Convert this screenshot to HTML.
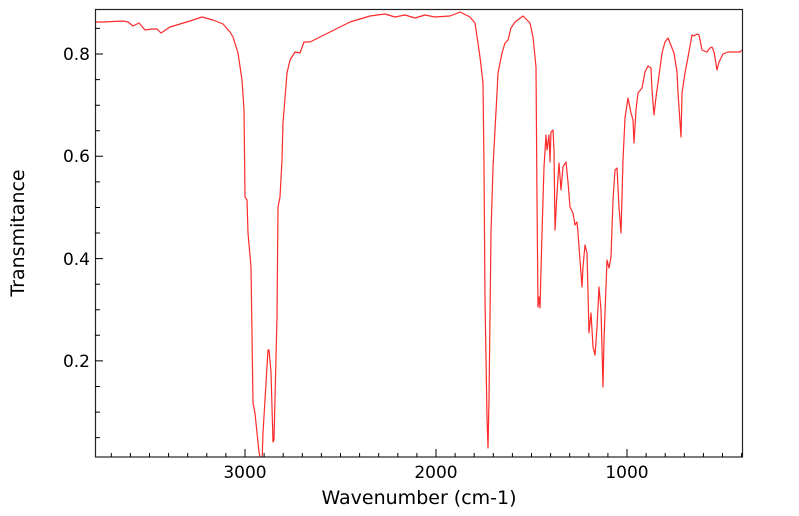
<!DOCTYPE html>
<html><head><meta charset="utf-8"><style>
html,body{margin:0;padding:0;background:#fff;width:799px;height:516px;overflow:hidden}
svg{display:block}
text{font-family:"DejaVu Sans","Liberation Sans",sans-serif;fill:#000}
</style></head><body>
<svg width="799" height="516" viewBox="0 0 799 516" xmlns="http://www.w3.org/2000/svg">
<rect width="799" height="516" fill="#fff"/>
<defs><clipPath id="c"><rect x="95" y="9" width="647" height="448"/></clipPath></defs>
<polyline clip-path="url(#c)" fill="none" stroke="#ff2a2a" stroke-width="1.2" stroke-linejoin="round" points="
95,22 103,22 123,21 128,22 133,26 139,23 145,30 152,29 157,29 161,33 170,27 180,24 190,21 202,17 213,20 223,24 230,32
233,37 238,53 242,80 244,110 245,197 247,200 248,233 251,267 253,403 255,413 257,433 259,452 261,462 262,463 263,433 266,383 268,350 269,350 271,372 273,442 274,440 277,317 278,207 280,197 282,160 283,123 287,73 290,60 295,52 300,53 304,42 310,42
330,32 350,22 370,16 385,14 395,17 405,15 415,18 425,15 435,17 450,16 460,12 470,17
475,23 480,57 483,83 484,167 485,300 487,417 488,448 489,400 491,233 493,167 497,93 498,73 502,53 505,43 508,40 511,28 515,22 523,16 530,23 533,37 536,67 537,200 538,307 539,297 540,308 542,233 544,167 546,135 547,150 549,135 550,162 551,132 553,130 554,150 555,230 557,193 559,163 561,190 563,167 566,162 568,182 570,207 573,213 575,225 577,222 578,233 580,260 582,287 583,267 585,245 587,253 589,333 591,313 593,347 595,355 597,327 599,287 601,310 603,387 604,340 607,260 609,268 611,257 613,200 615,170 617,168 619,207 621,233 623,160 625,118 628,98
631,113 633,120 634,143 636,110 638,93 642,88 645,72 648,66 651,68 652,90 654,115 656,97 658,83 662,53 665,42 668,38 672,48 674,53 677,72 678,93 681,137 682,93 685,73 688,57 692,35 694,36 697,34 699,35 702,50 707,52 710,48 712,47 714,52 717,70 719,62 723,54 728,52 740,52 742,50"/>
<g stroke="#000" stroke-width="1" fill="none">
<rect x="95.5" y="9.5" width="647" height="447.5" stroke="#222" stroke-width="1.2"/>
<path d="
M111.3,457v-4 M130.4,457v-4 M149.5,457v-4 M168.6,457v-4 M187.7,457v-4 M206.8,457v-4 M225.9,457v-4 M245,457v-8
M264.1,457v-4 M283.2,457v-4 M302.3,457v-4 M321.4,457v-4 M340.5,457v-4 M359.6,457v-4 M378.7,457v-4 M397.8,457v-4 M416.9,457v-4 M436,457v-8
M455.1,457v-4 M474.2,457v-4 M493.3,457v-4 M512.4,457v-4 M531.5,457v-4 M550.6,457v-4 M569.7,457v-4 M588.8,457v-4 M607.9,457v-4 M627,457v-8
M646.1,457v-4 M665.2,457v-4 M684.3,457v-4 M703.4,457v-4 M722.5,457v-4 M741.6,457v-4
M95,28.4h5 M95,54h8 M95,79.6h5 M95,105.2h5 M95,130.7h5 M95,156.3h8 M95,181.9h5 M95,207.5h5 M95,233h5 M95,258.6h8 M95,284.2h5 M95,309.8h5 M95,335.3h5 M95,360.9h8 M95,386.5h5 M95,412.1h5 M95,437.6h5"/>
</g>
<g font-size="17">
<text x="90" y="60" text-anchor="end">0.8</text>
<text x="90" y="162" text-anchor="end">0.6</text>
<text x="90" y="265" text-anchor="end">0.4</text>
<text x="90" y="367" text-anchor="end">0.2</text>
<text x="245" y="478" text-anchor="middle">3000</text>
<text x="436" y="478" text-anchor="middle">2000</text>
<text x="627" y="478" text-anchor="middle">1000</text>
</g>
<g font-size="19">
<text x="419" y="504" text-anchor="middle">Wavenumber (cm-1)</text>
<text transform="translate(24,233) rotate(-90)" text-anchor="middle">Transmitance</text>
</g>
</svg>
</body></html>
